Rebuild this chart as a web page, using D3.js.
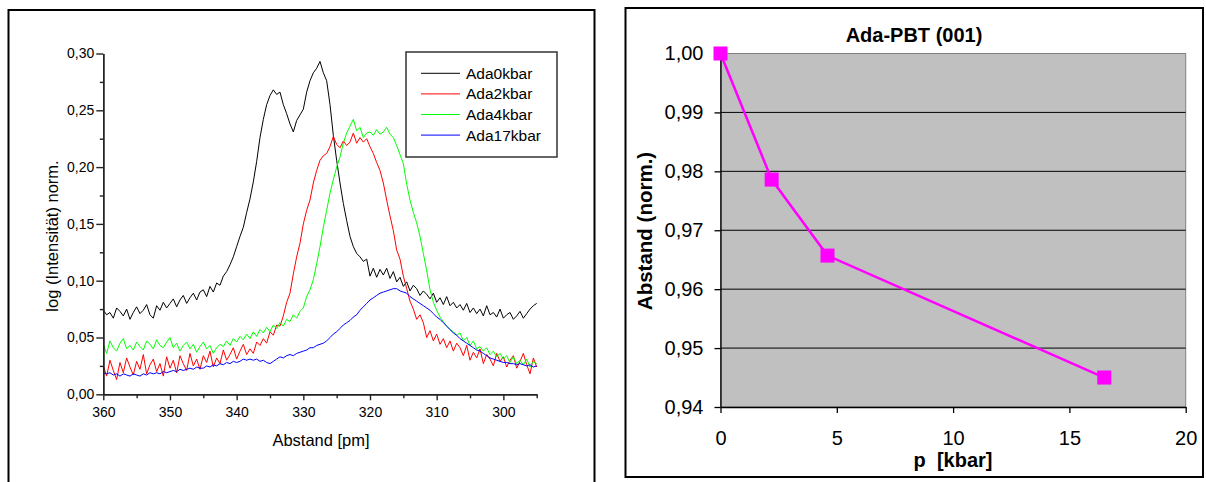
<!DOCTYPE html>
<html>
<head>
<meta charset="utf-8">
<script src="https://cdn.jsdelivr.net/npm/d3@7"></script>
<style>
  body { margin: 0; background: #fff; }
  svg { display: block; font-family: "Liberation Sans", Arial, sans-serif; }
</style>
</head>
<body>
<svg id="chart" width="1206" height="482"></svg>
<script>
// left panel: spectra, abstand grid in pm (0.5 pm steps)
var abstand = d3.range(360, 294.9, -0.5);
var seriesNames = ["Ada0kbar", "Ada2kbar", "Ada4kbar", "Ada17kbar"];
var seriesColors = ["#000000", "#ff0000", "#00ff00", "#0000ff"];

var ada0 = [0.074,0.070,0.072,0.067,0.076,0.073,0.069,0.075,0.066,0.072,
 0.077,0.071,0.074,0.079,0.070,0.067,0.078,0.074,0.081,0.076,
 0.080,0.084,0.077,0.083,0.087,0.080,0.085,0.089,0.083,0.090,
 0.092,0.086,0.095,0.090,0.098,0.096,0.104,0.108,0.114,0.121,
 0.130,0.139,0.147,0.160,0.172,0.187,0.205,0.226,0.242,0.255,
 0.263,0.268,0.264,0.266,0.255,0.247,0.238,0.231,0.241,0.246,
 0.251,0.266,0.276,0.283,0.287,0.293,0.283,0.276,0.255,0.228,
 0.206,0.186,0.168,0.153,0.139,0.130,0.124,0.121,0.117,0.119,
 0.104,0.111,0.103,0.110,0.105,0.111,0.102,0.108,0.099,0.103,
 0.095,0.099,0.091,0.096,0.093,0.087,0.091,0.088,0.084,0.089,
 0.081,0.085,0.079,0.086,0.078,0.081,0.076,0.079,0.074,0.080,
 0.072,0.076,0.071,0.075,0.069,0.078,0.070,0.072,0.068,0.075,
 0.067,0.070,0.072,0.066,0.069,0.073,0.067,0.071,0.075,0.078,
 0.080];

var ada2 = [0.025,0.016,0.030,0.021,0.013,0.028,0.019,0.032,0.024,0.017,
 0.029,0.022,0.035,0.018,0.026,0.031,0.020,0.027,0.016,0.033,
 0.023,0.030,0.019,0.034,0.027,0.021,0.036,0.025,0.031,0.022,
 0.034,0.028,0.038,0.024,0.032,0.027,0.039,0.030,0.035,0.041,
 0.031,0.038,0.044,0.035,0.040,0.036,0.046,0.043,0.049,0.045,
 0.055,0.052,0.061,0.060,0.069,0.081,0.089,0.106,0.121,0.133,
 0.150,0.162,0.171,0.186,0.197,0.206,0.210,0.212,0.218,0.227,
 0.220,0.217,0.223,0.219,0.222,0.230,0.221,0.226,0.222,0.225,
 0.218,0.212,0.204,0.197,0.186,0.171,0.157,0.144,0.127,0.119,
 0.104,0.093,0.082,0.075,0.066,0.070,0.063,0.050,0.056,0.047,
 0.053,0.044,0.049,0.041,0.047,0.038,0.045,0.041,0.034,0.043,
 0.030,0.037,0.032,0.040,0.027,0.035,0.031,0.025,0.036,0.029,
 0.033,0.024,0.030,0.034,0.023,0.029,0.036,0.026,0.018,0.032,
 0.024];

var ada4 = [0.044,0.036,0.047,0.041,0.038,0.045,0.049,0.040,0.043,0.039,
 0.046,0.042,0.039,0.047,0.044,0.040,0.048,0.043,0.041,0.046,
 0.050,0.041,0.045,0.038,0.043,0.046,0.040,0.044,0.037,0.042,
 0.046,0.040,0.043,0.036,0.041,0.044,0.042,0.047,0.043,0.049,
 0.046,0.051,0.048,0.053,0.049,0.055,0.051,0.057,0.054,0.059,
 0.055,0.061,0.058,0.063,0.060,0.066,0.064,0.070,0.067,0.073,
 0.076,0.086,0.092,0.101,0.115,0.130,0.147,0.162,0.177,0.189,
 0.200,0.209,0.221,0.230,0.236,0.242,0.232,0.235,0.226,0.230,
 0.231,0.228,0.233,0.229,0.231,0.235,0.229,0.226,0.219,0.211,
 0.203,0.185,0.171,0.160,0.151,0.139,0.124,0.109,0.092,0.081,
 0.074,0.068,0.064,0.060,0.057,0.055,0.052,0.054,0.047,0.050,
 0.043,0.047,0.040,0.042,0.038,0.041,0.035,0.038,0.033,0.036,
 0.031,0.034,0.028,0.033,0.027,0.030,0.026,0.031,0.024,0.029,
 0.027];

var ada17 = [0.019,0.018,0.019,0.017,0.018,0.016,0.018,0.017,0.016,0.018,
 0.017,0.016,0.018,0.017,0.019,0.018,0.019,0.018,0.020,0.019,
 0.020,0.021,0.020,0.022,0.021,0.022,0.023,0.022,0.024,0.023,
 0.023,0.025,0.024,0.026,0.025,0.027,0.026,0.028,0.027,0.029,
 0.028,0.029,0.031,0.030,0.031,0.030,0.031,0.029,0.030,0.028,
 0.027,0.029,0.031,0.033,0.032,0.034,0.035,0.034,0.036,0.037,
 0.038,0.039,0.041,0.041,0.043,0.044,0.045,0.047,0.050,0.053,
 0.055,0.058,0.061,0.063,0.065,0.068,0.070,0.074,0.077,0.080,
 0.083,0.085,0.087,0.089,0.090,0.091,0.092,0.093,0.093,0.091,
 0.090,0.089,0.086,0.084,0.082,0.080,0.078,0.076,0.074,0.071,
 0.068,0.066,0.063,0.060,0.057,0.054,0.052,0.049,0.047,0.045,
 0.043,0.041,0.039,0.038,0.036,0.034,0.032,0.031,0.030,0.029,
 0.028,0.028,0.027,0.027,0.026,0.027,0.026,0.025,0.026,0.024,
 0.025];

var xTicksLeft = [360, 350, 340, 330, 320, 310, 300];
var yTicksLeft = [0, 0.05, 0.10, 0.15, 0.20, 0.25, 0.30];

// right panel: Ada-PBT (001)
var pressure = [0, 2.2, 4.6, 16.5];
var abstandNorm = [1.000, 0.9786, 0.9657, 0.9450];
var xTicksRight = [0, 5, 10, 15, 20];
var yTicksRight = [0.94, 0.95, 0.96, 0.97, 0.98, 0.99, 1.00];

var svg = d3.select("#chart");
var comma = function(f) { return function(d) { return d3.format(f)(d).replace(".", ","); }; };

// ---------- left panel ----------
svg.append("rect")
    .attr("x", 8.5).attr("y", 10).attr("width", 586).attr("height", 480)
    .attr("fill", "none").attr("stroke", "#000").attr("stroke-width", 2);

var x1 = d3.scaleLinear().domain([360, 295]).range([103.3, 536.7]);
var y1 = d3.scaleLinear().domain([0, 0.30]).range([394.3, 53.5]);

var left = svg.append("g");

var line1 = d3.line()
    .x(function(d) { return x1(d[0]); })
    .y(function(d) { return y1(d[1]); });

[ada0, ada2, ada4, ada17].forEach(function(vals, i) {
    left.append("path")
        .datum(abstand.map(function(a, j) { return [a, vals[j]]; }))
        .attr("fill", "none")
        .attr("stroke", seriesColors[i])
        .attr("stroke-width", 1)
        .attr("d", line1);
});

// minor ticks first, then major axes
left.append("g")
    .attr("transform", "translate(0,394.3)")
    .call(d3.axisBottom(x1).tickValues([355, 345, 335, 325, 315, 305, 295]).tickFormat("").tickSize(4).tickSizeOuter(0));
left.append("g")
    .attr("transform", "translate(103.3,0)")
    .call(d3.axisLeft(y1).tickValues([0.025, 0.075, 0.125, 0.175, 0.225, 0.275]).tickFormat("").tickSize(3.5).tickSizeOuter(0));

var xAx1 = left.append("g")
    .attr("transform", "translate(0,394.3)")
    .call(d3.axisBottom(x1).tickValues(xTicksLeft).tickFormat(d3.format("d")).tickSize(6).tickSizeOuter(0).tickPadding(7));
var yAx1 = left.append("g")
    .attr("transform", "translate(103.3,0)")
    .call(d3.axisLeft(y1).tickValues(yTicksLeft).tickFormat(comma(".2f")).tickSize(7).tickSizeOuter(0).tickPadding(2));

left.selectAll(".domain, .tick line").attr("stroke", "#222").attr("stroke-width", 1.4);
left.selectAll(".tick text").attr("font-family", "Liberation Sans, Arial, sans-serif")
    .attr("font-size", 14).attr("fill", "#000");

left.append("text")
    .attr("x", 321).attr("y", 446)
    .attr("text-anchor", "middle").attr("font-size", 16.5)
    .text("Abstand [pm]");
left.append("text")
    .attr("transform", "translate(58,236) rotate(-90)")
    .attr("text-anchor", "middle").attr("font-size", 16.5)
    .text("log (Intensität) norm.");

// legend
var legend = left.append("g");
legend.append("rect")
    .attr("x", 406).attr("y", 52).attr("width", 151).attr("height", 105)
    .attr("fill", "#fff").attr("stroke", "#333").attr("stroke-width", 1.5);
seriesNames.forEach(function(name, i) {
    var ly = 73.3 + i * 20.6;
    legend.append("line")
        .attr("x1", 421).attr("x2", 460).attr("y1", ly).attr("y2", ly)
        .attr("stroke", seriesColors[i]).attr("stroke-width", 1);
    legend.append("text")
        .attr("x", 466).attr("y", ly + 5.5)
        .attr("font-size", 15.5)
        .text(name);
});

// ---------- right panel ----------
svg.append("rect")
    .attr("x", 625.5).attr("y", 8).attr("width", 577.5).attr("height", 469)
    .attr("fill", "none").attr("stroke", "#000").attr("stroke-width", 2);

var x2 = d3.scaleLinear().domain([0, 20]).range([720.5, 1185.7]);
var y2 = d3.scaleLinear().domain([0.94, 1.00]).range([407, 53.5]);

var right = svg.append("g");

right.append("rect")
    .attr("x", x2(0)).attr("y", y2(1.00))
    .attr("width", x2(20) - x2(0)).attr("height", y2(0.94) - y2(1.00))
    .attr("fill", "#c0c0c0").attr("stroke", "#808080").attr("stroke-width", 1);

right.append("g")
    .selectAll("line")
    .data(yTicksRight.slice(1, -1))
    .join("line")
    .attr("x1", x2(0)).attr("x2", x2(20))
    .attr("y1", function(d) { return y2(d); })
    .attr("y2", function(d) { return y2(d); })
    .attr("stroke", "#000").attr("stroke-width", 1);

var xAx2 = right.append("g")
    .attr("transform", "translate(0," + y2(0.94) + ")")
    .call(d3.axisBottom(x2).tickValues(xTicksRight).tickFormat(d3.format("d")).tickSize(6).tickSizeOuter(0).tickPadding(18));
var yAx2 = right.append("g")
    .attr("transform", "translate(" + x2(0) + ",0)")
    .call(d3.axisLeft(y2).tickValues(yTicksRight).tickFormat(comma(".2f")).tickSize(6).tickSizeOuter(0).tickPadding(11));
right.selectAll(".domain, .tick line").attr("stroke", "#000").attr("stroke-width", 1.3);
right.selectAll(".tick text").attr("font-family", "Liberation Sans, Arial, sans-serif")
    .attr("font-size", 20).attr("fill", "#000");

var line2 = d3.line()
    .x(function(d) { return x2(d[0]); })
    .y(function(d) { return y2(d[1]); });
var pts = pressure.map(function(p, i) { return [p, abstandNorm[i]]; });

right.append("path")
    .datum(pts)
    .attr("fill", "none").attr("stroke", "#ff00ff").attr("stroke-width", 2.5)
    .attr("d", line2);
right.selectAll("rect.marker")
    .data(pts)
    .join("rect")
    .attr("class", "marker")
    .attr("x", function(d) { return x2(d[0]) - 7; })
    .attr("y", function(d) { return y2(d[1]) - 7; })
    .attr("width", 14).attr("height", 14)
    .attr("fill", "#ff00ff");

right.append("text")
    .attr("x", 914).attr("y", 42)
    .attr("text-anchor", "middle").attr("font-size", 20).attr("font-weight", "bold")
    .text("Ada-PBT (001)");
right.append("text")
    .attr("x", 953).attr("y", 467)
    .attr("text-anchor", "middle").attr("font-size", 20).attr("font-weight", "bold")
    .style("white-space", "pre")
    .text("p  [kbar]");
right.append("text")
    .attr("transform", "translate(652,231) rotate(-90)")
    .attr("text-anchor", "middle").attr("font-size", 20.5).attr("font-weight", "bold")
    .text("Abstand (norm.)");
</script>
</body>
</html>
